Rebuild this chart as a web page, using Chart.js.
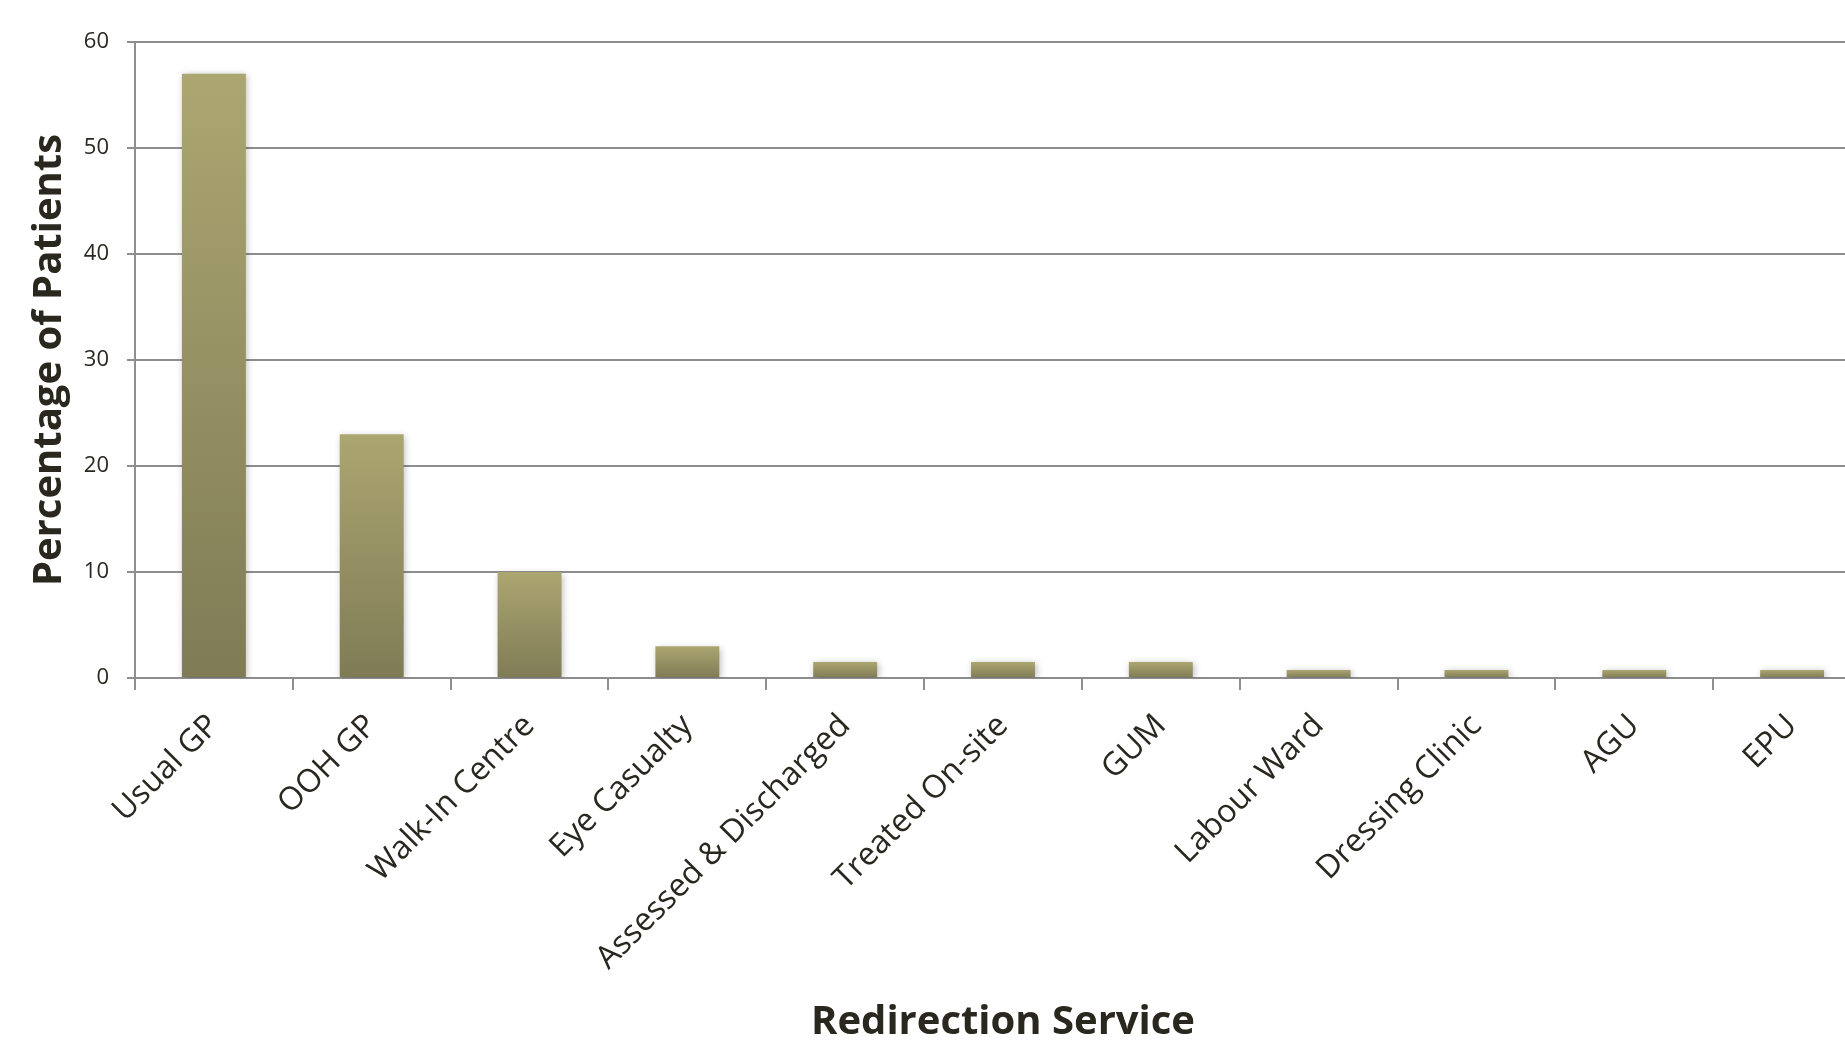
<!DOCTYPE html>
<html>
<head>
<meta charset="utf-8">
<script src="https://cdn.jsdelivr.net/npm/chart.js@4.4.1/dist/chart.umd.min.js"></script>
<style>
  html, body { margin: 0; padding: 0; background: #ffffff; overflow: hidden; }
  #wrap { position: relative; width: 1880px; height: 1043px; }
</style>
</head>
<body>
<div id="wrap"><canvas id="chart"></canvas></div>
<script>
// Redirection services and the share of patients sent to each (%)
const services = [
  'Usual GP', 'OOH GP', 'Walk-In Centre', 'Eye Casualty', 'Assessed & Discharged',
  'Treated On-site', 'GUM', 'Labour Ward', 'Dressing Clinic', 'AGU', 'EPU'
];
const percentPatients = [57, 23, 10, 3, 1.5, 1.5, 1.5, 0.75, 0.75, 0.75, 0.75];
const yTicks = [0, 10, 20, 30, 40, 50, 60];

const TEXT = '#2a271f';
const GRID = '#8e8e8e';
const FONT = "'Open Sans', 'DejaVu Sans', sans-serif";

// Vertical fade on each bar: lighter olive at the top, darker at the base
function barFill(ctx) {
  const chart = ctx.chart;
  const y = chart.scales.y;
  if (!y || ctx.parsed === undefined) return '#97925f';
  const top = y.getPixelForValue(ctx.parsed.y);
  const base = y.getPixelForValue(0);
  if (!isFinite(top) || !isFinite(base) || base - top < 1) return '#97925f';
  const g = chart.ctx.createLinearGradient(0, top, 0, base);
  g.addColorStop(0, '#aca671');
  g.addColorStop(1, '#7f7b55');
  return g;
}

// Soft drop shadow behind the bars
const barShadow = {
  id: 'barShadow',
  beforeDatasetDraw(chart) {
    const c = chart.ctx;
    c.save();
    c.shadowColor = 'rgba(0,0,0,0.28)';
    c.shadowBlur = 7;
    c.shadowOffsetX = 1.5;
    c.shadowOffsetY = 1.5;
  },
  afterDatasetDraw(chart) {
    chart.ctx.restore();
  }
};

new Chart(document.getElementById('chart'), {
  type: 'bar',
  data: {
    labels: services,
    datasets: [{
      data: percentPatients,
      backgroundColor: barFill,
      borderWidth: 0,
      categoryPercentage: 1.0,
      barPercentage: 0.405
    }]
  },
  options: {
    responsive: true,
    maintainAspectRatio: false,
    animation: false,
    devicePixelRatio: 1,
    layout: { padding: { top: 42, right: 9, bottom: 0, left: 0 } },
    plugins: {
      legend: { display: false },
      tooltip: { enabled: false }
    },
    scales: {
      x: {
        offset: true,
        afterFit(scale) { scale.height = 365; },
        grid: {
          offset: true,
          drawOnChartArea: false,
          drawTicks: true,
          tickLength: 12,
          color: GRID,
          lineWidth: 2
        },
        border: { display: true, color: GRID, width: 2 },
        ticks: {
          autoSkip: false,
          maxRotation: 45,
          minRotation: 45,
          padding: 17,
          color: TEXT,
          font: { family: FONT, size: 32 }
        },
        title: {
          display: true,
          text: 'Redirection Service',
          color: TEXT,
          font: { family: FONT, size: 40, weight: 'bold', lineHeight: 1 },
          padding: { top: 0, bottom: 0 }
        }
      },
      y: {
        min: 0,
        max: 60,
        afterFit(scale) { scale.width = 135; },
        afterBuildTicks(scale) { scale.ticks = yTicks.map(v => ({ value: v })); },
        grid: {
          drawTicks: true,
          tickLength: 8,
          color: GRID,
          lineWidth: 2
        },
        border: { display: true, color: GRID, width: 2 },
        ticks: {
          padding: 18,
          color: TEXT,
          font: { family: FONT, size: 22 }
        },
        title: {
          display: true,
          text: 'Percentage of Patients',
          color: TEXT,
          font: { family: FONT, size: 40, weight: 'bold', lineHeight: 1 },
          padding: { top: 30, bottom: 0 }
        }
      }
    }
  },
  plugins: [barShadow]
});
</script>
</body>
</html>
